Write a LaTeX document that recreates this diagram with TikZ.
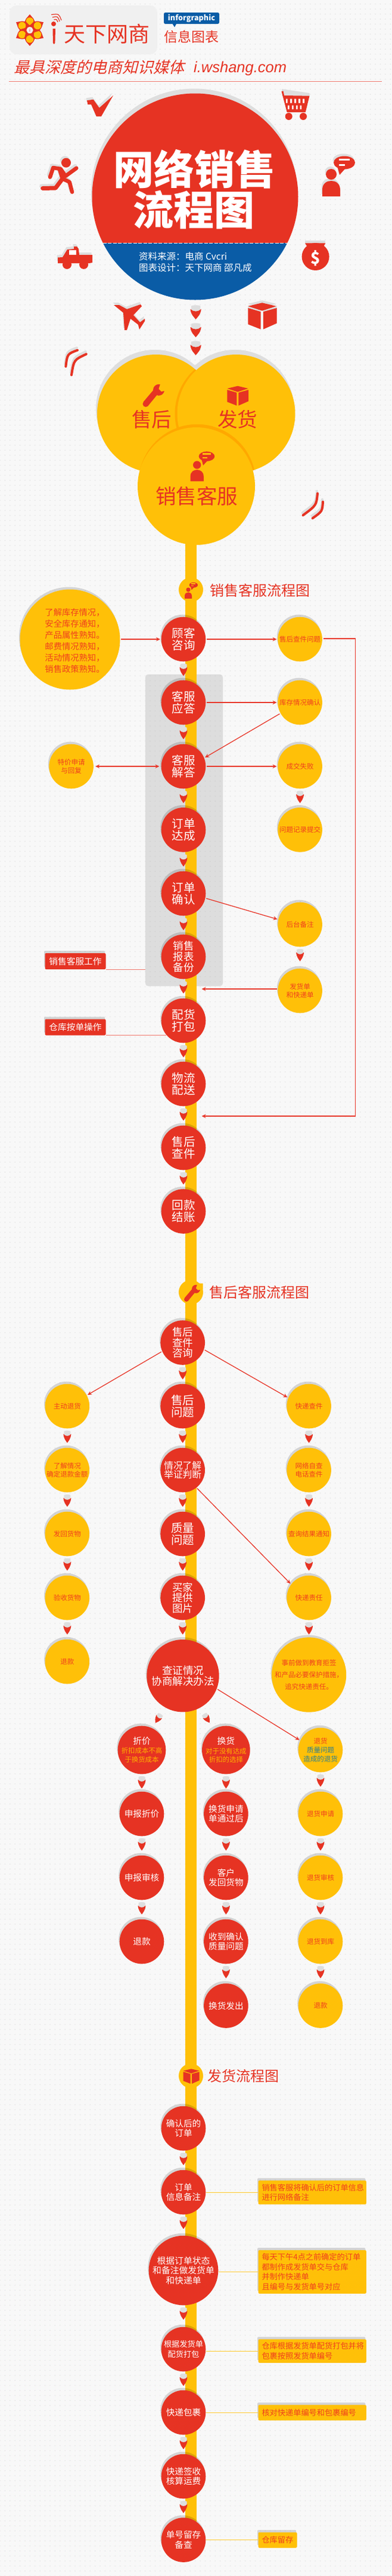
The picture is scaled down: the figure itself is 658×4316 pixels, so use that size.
\documentclass[tikz,border=0pt]{standalone}
\usepackage{fontspec}
\usetikzlibrary{arrows.meta,calc,shadows,patterns}
\setmainfont{Noto Sans CJK SC}
\newfontfamily\slantcjk[FakeSlant=0.25]{Noto Sans CJK SC}
\newfontfamily\latinf{Liberation Sans}
\newfontfamily\blackf{Noto Sans CJK SC Black}
\definecolor{mred}{HTML}{E63323}
\definecolor{myel}{HTML}{FFC008}
\definecolor{mblue}{HTML}{0A5CA6}
\definecolor{mora}{HTML}{FFA800}
\definecolor{tred}{HTML}{F0401E}
\definecolor{grayS}{HTML}{DEDEDE}
\definecolor{bgc}{HTML}{F8F8F8}
\definecolor{dotc}{HTML}{E4E4E4}
\definecolor{lnk}{HTML}{E8392C}
\definecolor{lnkl}{HTML}{F07A70}
\definecolor{tealt}{HTML}{2F7F8F}
\definecolor{oranget}{HTML}{FFB300}
\pgfdeclarepatternformonly{dotsbg}{\pgfqpoint{-1pt}{-1pt}}{\pgfqpoint{7.4pt}{7.4pt}}{\pgfqpoint{8.4pt}{8.4pt}}{\pgfpathcircle{\pgfqpoint{0pt}{0pt}}{0.95pt}\pgfusepath{fill}}
\newcommand\fz[2]{\fontsize{#1pt}{#2pt}\selectfont}
\newcommand\ptrshape[3]{\begin{scope}[shift={#1},rotate=#2,#3]
\fill[grayS] (-5.5,-11) -- (-5.5,-19.5) .. controls (-3,-21) and (3,-21) .. (5.5,-19.5) -- (5.5,-11) -- cycle;
\fill[mred] (-6.5,-15) .. controls (-6,-7) and (-2,-3) .. (0,0) .. controls (2,-3) and (6,-7) .. (6.5,-15) .. controls (3,-10.5) and (-3,-10.5) .. cycle;
\end{scope}}
\newcommand\ptr[1]{\ptrshape{($(#1.south)+(0,24)$)}{0}{}}
\newcommand\sfill[1]{\fill[grayS,shift={(-1.5pt,4pt)}] #1; \fill[mred] #1;}
\newcommand\personicon[1]{\begin{scope}[#1]
\fill[iconf] (0,0) circle (9pt);
\fill[iconf] (-15,37) -- (-15,26) .. controls (-15,15) and (-7,11) .. (0,11) .. controls (7,11) and (15,15) .. (15,26) -- (15,37) -- cycle;
\fill[iconf] (22,-19.5) ellipse (18pt and 11pt);
\fill[iconf] (10,-14) -- (14,1) -- (24,-10) -- cycle;
\fill[iconw] (12.6,-26.5) rectangle (31,-23.5);
\fill[iconw] (12.6,-17.5) rectangle (23,-14.5);
\end{scope}}
\newcommand\boxicon[1]{\begin{scope}[#1]
\fill[iconf] (0,-22.7) -- (23.7,-17) -- (0,-9.3) -- (-23.7,-17) -- cycle;
\fill[iconf] (-23.7,-14) -- (-2.3,-7.7) -- (-2.3,21.7) -- (-23.7,13.3) -- cycle;
\fill[iconf] (1.9,-7.7) -- (24.5,-14) -- (24.5,11.7) -- (1.9,21.7) -- cycle;
\end{scope}}
\newcommand\wrenchicon[1]{\begin{scope}[#1]
\fill[mred] (-12.3,14.2) circle (5.2pt);
\fill[mred] (-16,10.5) -- (3,-12) -- (10,-5) -- (-8.5,17.5) -- cycle;
\fill[mred] (9.5,-9.2) circle (9.5pt);
\fill[myel] (9.5,-11) -- (13,-22) -- (25,-22) -- (25,-9) -- (14,-6.5) -- cycle;
\end{scope}}
\tikzset{
 iconf/.style={fill=mred}, iconw/.style={fill=white},
 softsh/.style={general shadow={fill=black,fill opacity=.14,shadow yshift=4pt,shadow xshift=-1.5pt}},
 redc/.style={circle,minimum size=74.6pt,inner sep=0pt,fill=mred,text=white,align=center,softsh},
 yelc/.style={circle,minimum size=74.6pt,inner sep=0pt,fill=myel,text=tred,align=center,softsh,font=\fz{11.5}{14.6}},
 rlabel/.style={rectangle,rounded corners=2pt,fill=mred,text=white,minimum width=102pt,minimum height=27pt,inner sep=0pt,softsh,font=\fz{14.7}{16}},
 ybox/.style={rectangle,rounded corners=2pt,fill=myel,text=tred,inner ysep=0pt,inner xsep=6pt,align=left,text width=169.3pt,softsh,font=\fz{13.2}{16.5}},
 heading/.style={anchor=west,inner sep=0pt,text=mred,font=\fz{24}{24}},
 secdot/.style={circle,fill=myel,minimum size=41pt,inner sep=0pt},
 link/.style={draw=lnk,line width=1.3pt,-{Stealth[length=7pt,width=6.5pt]},shorten >=1.5pt,shorten <=1.5pt},
 linkb/.style={draw=lnk,line width=1.3pt,{Stealth[length=7pt,width=6.5pt]}-{Stealth[length=7pt,width=6.5pt]},shorten >=3pt,shorten <=3pt},
 llink/.style={draw=lnkl,line width=1pt},
 ylink/.style={draw=myel!85!white,line width=1pt},
 plain/.style={inner sep=0pt,align=center},
 tick/.style={line width=4pt,line cap=round}
}
\begin{document}
\begin{tikzpicture}[x=1pt,y=-1pt]
\useasboundingbox (0,0) rectangle (658,4316);
\fill[bgc] (0,0) rectangle (658,4316);
\fill[pattern=dotsbg,pattern color=dotc] (0,0) rectangle (658,4316);
% header
\node[rectangle,rounded corners=12pt,fill=black!6,minimum width=248pt,minimum height=82pt,inner sep=0pt] (logobg) at (140,50) {};
\foreach \a in {0,60,120,180,240,300}{
 \begin{scope}[shift={(50,50.5)},rotate=\a]
 \fill[mred] (-9,-13) .. controls (-7,-19) and (-3,-23) .. (0,-26.5) .. controls (3,-23) and (7,-19) .. (9,-13) -- (7,-5) -- (-7,-5) -- cycle;
 \fill[mred] (0,-15) circle (7.5pt);
 \fill[myel] (0,-15) circle (6.3pt);
 \end{scope}}
\node[circle,fill=black!6,minimum size=11pt,inner sep=0pt,text=mred,font=\fz{7}{7}] (flowerc) at (50,50.5) {i};
\fill[mred] (90,40) circle (4pt);
\fill[mred] (88.5,48) -- (93,48) -- (92.4,72) -- (90.7,74) -- (89,72) -- cycle;
\draw[mred,line width=1.2pt] (90.5,33) .. controls (95,32) .. (97,37);
\draw[mred,line width=1.2pt] (88,29) .. controls (97,27) .. (100,36);
\draw[mred,line width=1.2pt] (86,24.5) .. controls (99,23) .. (103,34);
\node[plain,text=mred,font=\fz{36}{36}] (brand) at (179,57) {天下网商};
\node[rectangle,rounded corners=2.5pt,fill=mblue,text=white,minimum width=93pt,minimum height=19pt,inner sep=0pt,font=\bfseries\fz{12.6}{13}] (badge) at (321.5,30.5) {inforgraphic};
\fill[mblue] (289,39) -- (296.5,39) -- (293,45.5) -- cycle;
\node[plain,text=mred,font=\fz{23}{23}] (infotitle) at (321,62) {信息图表};
\node[anchor=west,inner sep=0pt,text=mred,font=\slantcjk\fz{26}{26}] (tagline) at (23,113) {最具深度的电商知识媒体};
\node[anchor=west,inner sep=0pt,text=mred,font=\latinf\itshape\fz{25.5}{26}] (site) at (325,115) {i.wshang.com};
\coordinate (ruleL) at (15,136); \coordinate (ruleR) at (641,136);
\draw[lnkl,line width=1pt] (ruleL) -- (ruleR);
% icons round the main circle
\sfill{(146,168.3) -- (156.7,166.7) -- (166.7,180.7) -- (190,160) -- (170,195) -- (161.7,195) -- (153,175) -- (147.3,175) -- cycle}
\fill[grayS] (473,149) -- (519.5,156) -- (519.5,161) -- (473,161) -- cycle;
\fill[mred] (472.5,153) -- (475.5,152.5) -- (477,160) -- (519.5,160.7) -- (512.8,188) -- (481.7,188) -- cycle;
\fill[white] (480,165.5) rectangle (482.5,172.5) (487,165.5) rectangle (490,172.5) (494,165.5) rectangle (497,172.5) (501,165.5) rectangle (504,172.5) (508,165.5) rectangle (511,172.5);
\fill[white] (483,176.7) rectangle (485.5,183) (490,176.7) rectangle (492.5,183) (497,176.7) rectangle (499.5,183) (503.5,176.7) rectangle (506,183);
\fill[mred] (484.7,195) circle (6pt) (509,195) circle (6pt);
% runner
\foreach \col/\dx/\dy in {grayS/-2/-3.5,mred/0/0}{
 \begin{scope}[shift={(\dx,\dy)}]
 \fill[\col] (111,272.7) circle (8pt);
 \draw[\col,line width=6.5pt,line cap=round,line join=round] (84,296.7) -- (89.3,281) -- (101.7,283) -- (110,295) -- (128.3,281.7);
 \draw[\col,line width=7pt,line cap=round,line join=round] (100,283) -- (105,299.3) -- (93.3,315) -- (71.7,315.5);
 \draw[\col,line width=6.5pt,line cap=round,line join=round] (105,299.3) -- (116.7,305) -- (121,321.7);
 \end{scope}}
% person right
\personicon{iconf/.style={fill=grayS},iconw/.style={fill=grayS},shift={(554.5,288)}}
\personicon{shift={(556,292)}}
% truck
\sfill{(97,437) -- (97,431.5) -- (105,431) -- (113,418) -- (124,417) -- (124,413) -- (129,413) -- (132,417) -- (133,427) -- (155,427) -- (155,440) -- (150,441) -- (97,441) -- cycle}
\fill[white] (115.8,419) rectangle (127.5,427);
\fill[mred] (112.5,443.3) circle (7.5pt) (140.6,443.3) circle (7.5pt);
% money bag
\fill[grayS] (512,403) rectangle (546.4,408);
\fill[mred] (529.6,430) circle (23pt);
\fill[mred] (512,407.3) -- (546.4,407.3) -- (538,422) -- (521,422) -- cycle;
\node[plain,text=white,font=\bfseries\fz{27}{27}] (dollar) at (529.6,433) {\$};
% plane
\sfill{(191,511) -- (200,511) -- (213,518) -- (236,510) -- (238,513) -- (224,528) -- (235,540) -- (243,534) -- (243,538) -- (234,552) -- (232,544) -- (219,534) -- (213,553) -- (209,553) -- (207,524) -- cycle}
% box
\boxicon{iconf/.style={fill=grayS},shift={(440,526)}}
\boxicon{shift={(440,530)}}
% main circle
\fill[grayS] (326,321.5) circle (173pt);
\begin{scope}
 \clip (327.5,329.5) circle (173pt);
 \fill[mred] (150,150) rectangle (510,408);
 \fill[mblue] (150,407.3) rectangle (510,510);
\end{scope}
\node[circle,minimum size=346pt,inner sep=0pt] (main) at (327.5,329.5) {};
\coordinate (dashL) at (172.9,407.3); \coordinate (dashR) at (481.7,407.3);
\draw[white,line width=1pt,dash pattern=on 6pt off 2.5pt] (dashL) -- (dashR);
\node[plain,text=white,font=\blackf\fz{68}{68}] (t1) at (326.5,283.5) {网络销售};
\node[plain,text=white,font=\blackf\fz{68}{68}] (t2) at (325,351.5) {流程图};
\node[anchor=west,inner sep=0pt,text=white,font=\fz{15.5}{16}] (cr1) at (233,430) {资料来源：电商 Cvcri};
\node[anchor=west,inner sep=0pt,text=white,font=\fz{15.5}{16}] (cr2) at (233,449) {图表设计：天下网商 邵凡成};
% arrows below main circle
\ptrshape{(328.6,535)}{0}{xscale=1.4,yscale=1.15}
\ptrshape{(328.6,565)}{0}{xscale=1.4,yscale=1.15}
\ptrshape{(328.6,595)}{0}{xscale=1.4,yscale=1.15}
% ticks
\foreach \col/\dx/\dy in {grayS/-1/-4,mred/0/0}{
 \begin{scope}[shift={(\dx,\dy)}]
 \draw[\col,tick] (130,586.7) .. controls (113,593) .. (110.4,614);
 \draw[\col,tick] (144.8,593.3) .. controls (124,603) .. (120,628.3);
 \draw[\col,tick] (533,826.7) .. controls (531,846.7) .. (508.6,863.3);
 \draw[\col,tick] (542,840.7) .. controls (541,856.7) .. (524.6,868.3);
 \end{scope}}
% panel
\node[rectangle,rounded corners=5pt,fill=black!35!bgc,fill opacity=.3,draw=black!12,minimum width=130pt,minimum height=522pt,inner sep=0pt] (panel) at (309,1391) {};
% bar
\fill[myel] (311,900) rectangle (329.5,4255);
% yellow trio
\fill[grayS] (260,685) circle (99pt);
\fill[grayS] (394.5,685) circle (99pt);
\fill[myel] (262,693) circle (99pt);
\begin{scope}
 \clip (262,693) circle (99pt);
 \fill[mora] (392.5,693) circle (99pt);
\end{scope}
\fill[myel] (396.5,693) circle (99pt);
\begin{scope}
 \clip (262,693) circle (99pt);
 \fill[mora] (331,809.5) circle (98.5pt);
\end{scope}
\begin{scope}
 \clip (396.5,693) circle (99pt);
 \fill[mora] (331,809.5) circle (98.5pt);
\end{scope}
\node[circle,minimum size=197pt,inner sep=0pt,fill=myel] (kefu) at (329.5,814.5) {};
\wrenchicon{shift={(257,662.5)}}
\node[plain,text=mred,font=\fz{33.5}{34}] (shouhou) at (254.5,703) {售后};
\boxicon{shift={(399,663.5)},scale=.74}
\node[plain,text=mred,font=\fz{33.5}{34}] (fahuo) at (398.5,703) {发货};
\personicon{shift={(330.7,779)},scale=.74,iconw/.style={fill=myel}}
\node[plain,text=mred,font=\fz{34.5}{35}] (kefut) at (330,831.5) {销售客服};
% section 1
\node[secdot] (sec1) at (320.5,988) {};
\personicon{shift={(316,988)},scale=.4,iconw/.style={fill=myel}}
\node[heading] (sec1t) at (352.5,989) {销售客服流程图};
\node[circle,minimum size=168pt,inner sep=0pt,fill=myel,softsh] (lc) at (117.5,1071.5) {};
\node[inner sep=0pt,align=left,text=tred,font=\fz{14.3}{18.9}] (lct) at (125.5,1073.8) {了解库存情况，\\安全库存通知，\\产品属性熟知。\\邮费情况熟知，\\活动情况熟知，\\销售政策熟知。};
\node[redc,font=\fz{19.5}{20}] (a1) at (308,1071) {顾客\\咨询};
\node[redc,font=\fz{19.5}{20}] (a2) at (308,1177) {客服\\应答};
\node[redc,font=\fz{19.5}{20}] (a3) at (308,1284) {客服\\解答};
\node[redc,font=\fz{19.5}{20}] (a4) at (308,1390.3) {订单\\达成};
\node[redc,font=\fz{19.5}{20}] (a5) at (308,1497) {订单\\确认};
\node[redc,font=\fz{17.5}{18}] (a6) at (308,1603) {销售\\报表\\备份};
\node[redc,font=\fz{19.5}{20}] (a7) at (308,1710) {配货\\打包};
\node[redc,font=\fz{19.5}{20}] (a8) at (308,1816) {物流\\配送};
\node[redc,font=\fz{19.5}{20}] (a9) at (308,1923) {售后\\查件};
\node[redc,font=\fz{19.5}{20}] (a10) at (308,2029.5) {回款\\结账};
\foreach \n in {a1,a2,a3,a4,a5,a6,a7,a8,a9}{\ptr{\n}}
\node[yelc] (r1) at (503.6,1071) {售后查件问题};
\node[yelc] (r2) at (503.6,1177) {库存情况确认};
\node[yelc] (r3) at (503.6,1284) {成交失败};
\node[yelc] (r4) at (503.6,1390.3) {问题记录提交};
\node[yelc] (r5) at (503.6,1549) {后台备注};
\node[yelc] (r6) at (503.6,1660) {发货单\\和快递单};
\node[yelc] (l3) at (119.6,1284) {特价申请\\与回复};
\ptr{r3}\ptr{r5}
\node[rlabel] (lab1) at (126.5,1610.5) {销售客服工作};
\node[rlabel] (lab2) at (126.5,1721) {仓库按单操作};
\draw[link] (lc.east |- a1.west) -- (a1.west);
\draw[link] (a1.east) -- (r1.west);
\draw[link] (a2.east) -- (r2.west);
\draw[link] (r2.209) -- (a3.22.6);
\draw[linkb] (l3.east) -- (a3.west);
\draw[link] (a3.east) -- (r3.west);
\draw[link] (a5.-12) -- (r5.167);
\coordinate (t6) at (337,1657);
\draw[link] (r6.west |- t6) -- (t6);
\coordinate (b1) at (596.3,1070); \coordinate (b2) at (596.3,1870); \coordinate (t1e) at (337,1870);
\draw[link,line join=miter] (r1.east |- b1) -- (b1) -- (b2) -- (t1e);
\draw[llink] (lab1.south east) -- (lab1.south east -| panel.west);
\draw[llink] (lab2.south east) -- (lab2.south east -| a7.219);
% section 2
\node[secdot] (sec2) at (320.5,2165) {};
\wrenchicon{shift={(322,2166.5)},scale=.74}
\node[heading] (sec2t) at (351,2165) {售后客服流程图};
\node[redc,font=\fz{17.5}{17.5}] (b1n) at (306.7,2249.5) {售后\\查件\\咨询};
\node[redc,font=\fz{19.5}{20}] (b2n) at (306.7,2356) {售后\\问题};
\node[redc,font=\fz{15.7}{15.8}] (b3n) at (306.7,2463) {情况了解\\举证判断};
\node[redc,font=\fz{19.5}{20}] (b4n) at (306.7,2570) {质量\\问题};
\node[redc,font=\fz{17.5}{17.5}] (b5n) at (306.7,2677) {买家\\提供\\图片};
\node[redc,minimum size=121.4pt,font=\fz{17.5}{17.8}] (b6n) at (307,2807.7) {查证情况\\协商解决办法};
\foreach \n in {b1n,b2n,b3n,b4n,b5n}{\ptr{\n}}
\node[yelc] (c1) at (112.9,2356) {主动退货};
\node[yelc] (c2) at (112.9,2463) {了解情况\\确定退款金额};
\node[yelc] (c3) at (112.9,2570) {发回货物};
\node[yelc] (c4) at (112.9,2677) {验收货物};
\node[yelc] (c5) at (112.9,2784) {退款};
\foreach \n in {c1,c2,c3,c4}{\ptr{\n}}
\node[yelc] (d1) at (518.6,2356) {快递查件};
\node[yelc] (d2) at (518.6,2463) {网络自查\\电话查件};
\node[yelc] (d3) at (518.6,2570) {查询结果通知};
\node[yelc] (d4) at (518.6,2677) {快递责任};
\node[yelc,minimum size=115.4pt,font=\fz{11.5}{19.7}] (d5) at (518.6,2806) {事前做到教育拒签\\和产品必要保护措施，\\追究快递责任。};
\foreach \n in {d1,d2,d3,d4}{\ptr{\n}}
% three branches
\node[redc,font=\fz{11.4}{14.7}] (e1) at (238,2932) {{\fz{14.7}{14.7}折价}\\[.5pt]\textcolor{oranget}{折扣成本不高}\\\textcolor{oranget}{于换货成本}};
\node[redc,font=\fz{14.6}{15}] (e2) at (238,3039) {申报折价};
\node[redc,font=\fz{14.6}{15}] (e3) at (238,3146) {申报审核};
\node[redc,font=\fz{14.6}{15}] (e4) at (238,3253) {退款};
\foreach \n in {e1,e2,e3}{\ptr{\n}}
\node[redc,font=\fz{11.4}{14.7}] (f1) at (379.4,2932) {{\fz{14.7}{14.7}换货}\\[.5pt]\textcolor{oranget}{对于没有达成}\\\textcolor{oranget}{折扣的选择}};
\node[redc,font=\fz{14.6}{16.7}] (f2) at (379.4,3039) {换货申请\\单通过后};
\node[redc,font=\fz{14.6}{16.7}] (f3) at (379.4,3146) {客户\\发回货物};
\node[redc,font=\fz{14.6}{16.7}] (f4) at (379.4,3253) {收到确认\\质量问题};
\node[redc,font=\fz{14.6}{15}] (f5) at (379.4,3360.5) {换货发出};
\foreach \n in {f1,f2,f3,f4}{\ptr{\n}}
\node[yelc,font=\fz{11.5}{15}] (g1) at (538,2932) {退货\\\textcolor{tealt}{质量问题}\\\textcolor{tealt}{造成的退货}};
\node[yelc] (g2) at (538,3039) {退货申请};
\node[yelc] (g3) at (538,3146) {退货审核};
\node[yelc] (g4) at (538,3253) {退货到库};
\node[yelc] (g5) at (538,3360.5) {退款};
\foreach \n in {g1,g2,g3,g4}{\ptr{\n}}
\ptrshape{(260.7,2886.7)}{-32}{scale=.85}
\ptrshape{(351.7,2886.4)}{32}{scale=.85}
\draw[link] (b1n.203) -- (c1.29);
\draw[link] (b1n.-18) -- (d1.158);
\draw[link] (b3n.-52) -- (d4.143);
\draw[link] (b6n.-21.5) -- (g1.155.6);
% section 3
\node[secdot] (sec3) at (320.5,3478) {};
\boxicon{shift={(321,3479)},scale=.56,iconf/.style={fill=mred}}
\node[heading] (sec3t) at (348,3478.5) {发货流程图};
\node[redc,font=\fz{14.6}{16.6}] (h1) at (308,3566) {确认后的\\订单};
\node[redc,font=\fz{14.6}{16.6}] (h2) at (308,3673) {订单\\信息备注};
\node[redc,minimum size=116.6pt,font=\fz{14.8}{16.4}] (h3) at (308,3804) {根据订单状态\\和备注做发货单\\和快递单};
\node[redc,font=\fz{13.2}{16.6}] (h4) at (308,3936) {根据发货单\\配货打包};
\node[redc,font=\fz{14.6}{16.6}] (h5) at (308,4042) {快递包裹};
\node[redc,font=\fz{14.6}{16.6}] (h6) at (308,4149) {快递签收\\核算运费};
\node[redc,font=\fz{14.6}{16.6}] (h7) at (308,4255.5) {单号留存\\备查};
\foreach \n in {h1,h2,h3,h4,h5,h6}{\ptr{\n}}
\node[ybox,minimum height=40pt] (x1) at (524.15,3673.3) {销售客服将确认后的订单信息\\进行网络备注};
\node[ybox,minimum height=72.7pt] (x2) at (524.15,3806.4) {每天下午4点之前确定的订单\\都制作成发货单交与仓库\\并制作快递单\\且编号与发货单号对应};
\node[ybox,minimum height=39.4pt] (x3) at (524.15,3939) {仓库根据发货单配货打包并将\\包裹按照发货单编号};
\node[ybox,minimum height=26pt] (x4) at (524.15,4042.3) {核对快递单编号和包裹编号};
\node[ybox,text width=53pt,minimum height=26pt] (x5) at (466,4255.7) {仓库留存};
\draw[ylink] (x1.west) -- (x1.west -| h2.east);
\draw[ylink] (x2.west) -- (x2.west -| h3.east);
\draw[ylink] (x3.west) -- (x3.west -| h4.east);
\draw[ylink] (x4.west) -- (x4.west -| h5.east);
\draw[ylink] (x5.west) -- (x5.west -| h7.east);
\end{tikzpicture}
\end{document}
